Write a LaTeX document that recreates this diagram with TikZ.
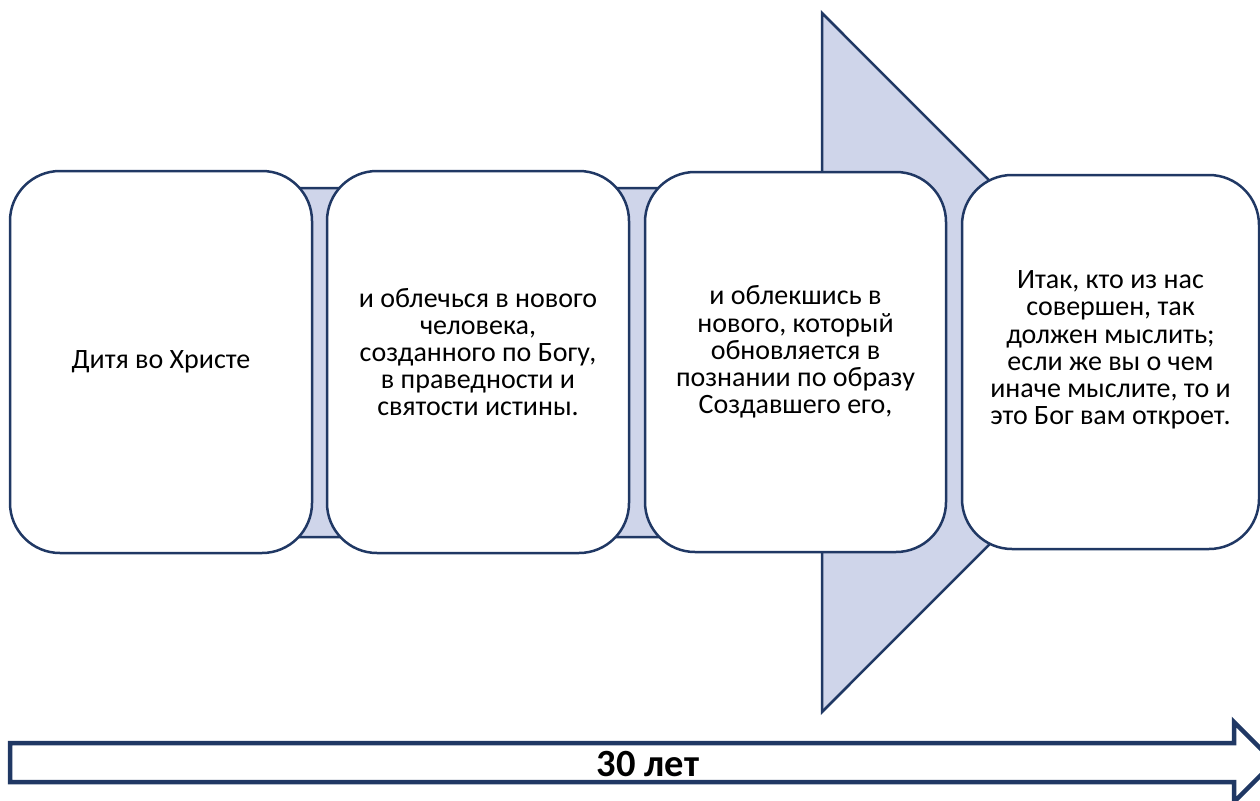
\documentclass[tikz,border=0pt]{standalone}
\usepackage{fontspec}
\setmainfont{Carlito}
\definecolor{navy}{RGB}{32,56,100}
\definecolor{lightfill}{HTML}{CFD5EA}
\begin{document}
\begin{tikzpicture}[x=1pt,y=-1pt,
  box/.style={draw=navy,line width=2.5pt,fill=white,rounded corners=50pt,inner sep=0pt},
  boxtext/.style={align=center,font=\fontsize{28}{27.2}\selectfont,text=black,inner sep=0pt},
  bigarrow/.style={draw=navy,line width=2.5pt,fill=lightfill,line join=miter},
  timearrow/.style={draw=navy,line width=4.5pt,fill=white,line join=miter}]
\useasboundingbox (0,0) rectangle (1260,800);
% big background arrow
\draw[bigarrow] (30,188) -- (822,188) -- (822,13) -- (1171,362.5) -- (822,712) -- (822,537) -- (30,537) -- cycle;
% boxes
\node[box,minimum width=302pt,minimum height=382pt] (b1) at (161,362) {};
\node[box,minimum width=302pt,minimum height=382pt] (b2) at (478,362) {};
\node[box,minimum width=301pt,minimum height=380pt] (b3) at (795.5,362) {};
\node[box,minimum width=297pt,minimum height=374pt] (b4) at (1110.5,362) {};
\node[boxtext] (t1) at ([yshift=0pt]b1.center) {Дитя во Христе};
\node[boxtext] (t2) at ([yshift=10pt]b2.center) {и облечься в нового\\человека,\\созданного по Богу,\\в праведности и\\святости истины.};
\node[boxtext] (t3) at ([yshift=10pt]b3.center) {и облекшись в\\нового, который\\обновляется в\\познании по образу\\Создавшего его,};
\node[boxtext] (t4) at ([yshift=12pt]b4.center) {Итак, кто из нас\\совершен, так\\должен мыслить;\\если же вы о чем\\иначе мыслите, то и\\это Бог вам откроет.};
% time arrow
\draw[timearrow] (10,743) -- (1234,743) -- (1234,722) -- (1274,762) -- (1234,802) -- (1234,782) -- (10,782) -- cycle;
\node[font=\fontsize{38.5}{40}\selectfont\bfseries,inner sep=0pt] (years) at (648,764) {30 лет};
\end{tikzpicture}
\end{document}
